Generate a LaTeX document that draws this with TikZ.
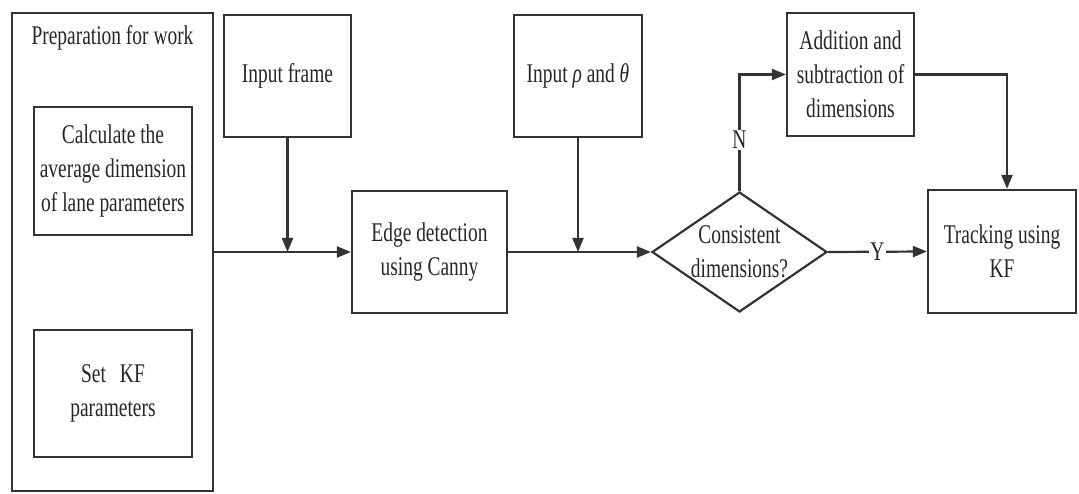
\documentclass[tikz,border=0pt]{standalone}
\usepackage{fontspec}
\setmainfont[FakeStretch=0.72]{Liberation Serif}
\usetikzlibrary{shapes.geometric,arrows.meta}

\newcommand\flowfont{\fontsize{27}{34}\selectfont}

\begin{document}
\begin{tikzpicture}[x=1pt,y=-1pt,
    box/.style={draw=kLine,line width=2.2pt,rectangle,inner sep=0pt,
                align=center,font=\flowfont,text=kText},
    decision/.style={box,diamond,aspect=1.46,inner sep=-6pt,
                     minimum width=175pt,minimum height=120pt},
    flow/.style={draw=kLine,line width=2.2pt,-{Triangle[length=14pt,width=11pt]}},
    tag/.style={fill=white,inner sep=1pt,font=\flowfont,text=kText}]
  \definecolor{kLine}{rgb}{0.2,0.2,0.2}
  \definecolor{kText}{rgb}{0.15,0.15,0.15}

  \useasboundingbox (0,0) rectangle (1079,494);

  % preparation block
  \node[box,minimum width=201pt,minimum height=478pt] (prep) at (112.5,252) {};
  \node[font=\flowfont,text=kText,anchor=north] (preptitle) at (112.5,22) {Preparation for work};
  \node[box,minimum width=158pt,minimum height=128pt] (calc) at (113,171)
    {Calculate the\\average dimension\\of lane parameters};
  \node[box,minimum width=158pt,minimum height=127pt] (setkf) at (113,393.5)
    {Set\hspace{14pt}KF\\parameters};

  % main boxes
  \node[box,minimum width=127pt,minimum height=122pt] (frame) at (287.5,76) {Input frame};
  \node[box,minimum width=155pt,minimum height=122pt] (edge) at (429.5,252)
    {Edge detection\\using Canny};
  \node[box,minimum width=128pt,minimum height=122pt] (rhotheta) at (578,76)
    {Input {\itshape ρ} and {\itshape θ}};
  \node[decision] (check) at (739.5,252) {Consistent\\dimensions?};
  \node[box,minimum width=127pt,minimum height=123pt] (addsub) at (850.5,74.5)
    {Addition and\\subtraction of\\dimensions};
  \node[box,minimum width=148pt,minimum height=123pt] (track) at (1002,251.5)
    {Tracking using\\KF};

  % arrows
  \draw[flow] (prep.east) -- (edge.west);
  \draw[flow] (frame.south) -- (frame.south |- edge.west);
  \draw[flow] (edge.east) -- (check.west);
  \draw[flow] (rhotheta.south) -- (rhotheta.south |- check.west);
  \draw[flow] (check.east) -- node[tag] (yes) {Y} (track.west);
  \draw[flow] (check.north) |- node[tag,pos=0.22] (no) {N} (addsub.west);
  \draw[flow] (addsub.east) -| ([xshift=5pt]track.north);
\end{tikzpicture}
\end{document}
